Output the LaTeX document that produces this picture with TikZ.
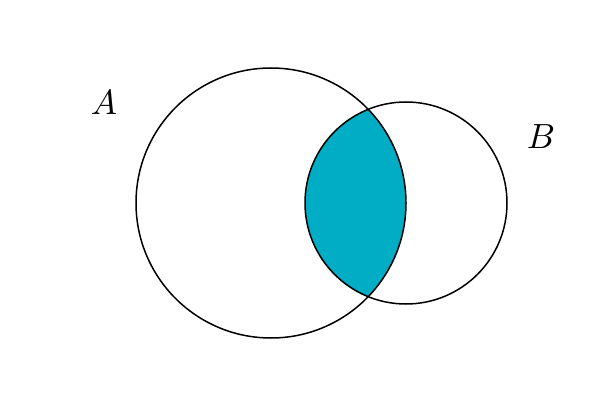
\documentclass[tikz,border=0pt]{standalone}
\usepackage{xcolor}
\definecolor{lens}{RGB}{0,173,196}
\begin{document}
\begin{tikzpicture}[x=1pt,y=1pt,
  setline/.style={draw=black,line width=1.5pt},
  setlabel/.style={scale=3.5}]
\useasboundingbox (0,0) rectangle (611,408);
\coordinate (ca) at (271,205);
\coordinate (cb) at (406,205);
\begin{scope}
  \clip (ca) circle[radius=135];
  \fill[lens] (cb) circle[radius=101];
\end{scope}
\draw[setline] (ca) circle[radius=135];
\draw[setline] (cb) circle[radius=101];
\node[setlabel] (la) at (104,305) {$A$};
\node[setlabel] (lb) at (541,271) {$B$};
\end{tikzpicture}
\end{document}
